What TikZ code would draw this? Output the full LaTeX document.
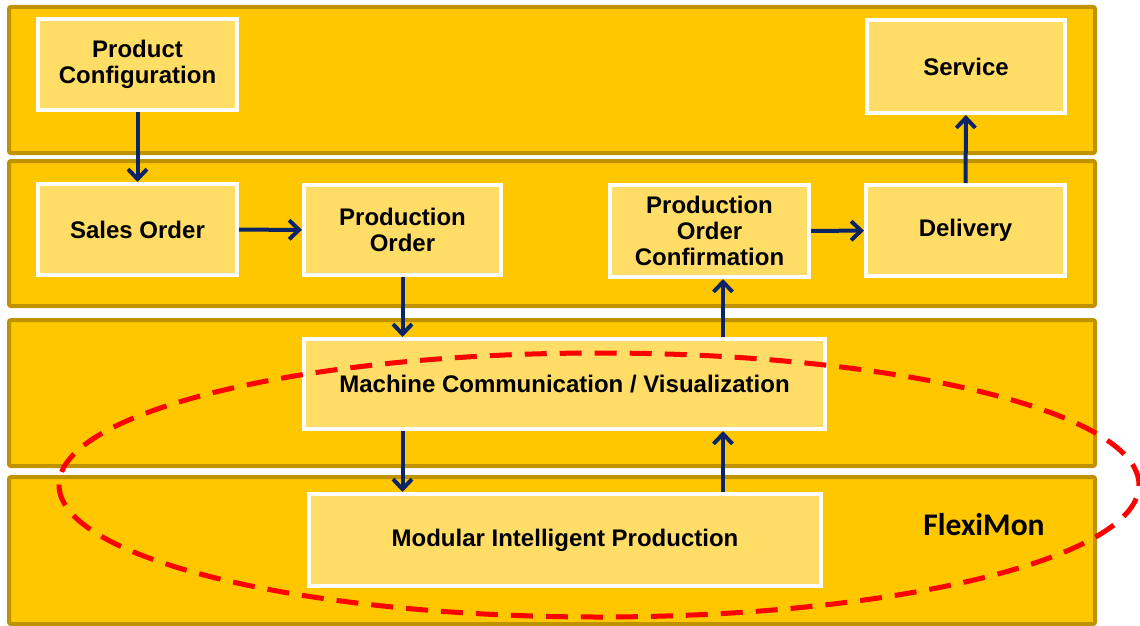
\documentclass[tikz,border=0pt]{standalone}
\usepackage{fontspec}
\setmainfont{Liberation Sans}
\newfontfamily\flexifamily{Carlito}
\usepackage{xcolor}
\usepackage{tikz}
\usetikzlibrary{arrows.meta,positioning,calc}
\definecolor{bandfill}{HTML}{FFC700}
\definecolor{bandline}{HTML}{BF9300}
\definecolor{boxfill}{HTML}{FFDD66}
\definecolor{navy}{HTML}{0A2466}
\tikzset{
  band/.style={draw=bandline, line width=4pt, fill=bandfill, rounded corners=2pt},
  box/.style={draw=white, line width=4pt, fill=boxfill, align=center, inner sep=2pt,
    font=\fontsize{24}{26}\selectfont\bfseries},
  arrow/.style={-{Straight Barb[length=10pt,width=19pt]}, line width=4pt, draw=navy},
  lens/.style={draw=red, line width=5pt, dash pattern=on 22pt off 13pt}
}
\begin{document}
\begin{tikzpicture}[x=1pt, y=-1pt]
    \useasboundingbox (0,0) rectangle (1140,626);
    % Layers
    \path[band] (9,7) rectangle (1095,153);
    \path[band] (9,161) rectangle (1095,306);
    \path[band] (9,320) rectangle (1095,466);
    \path[band] (9,477) rectangle (1095,624);

    % Nodes
    \node[box, minimum width=199pt, minimum height=91pt] (pconf) at (137.5,64.5) {Product\\ Configuration};
    \node[box, minimum width=199pt, minimum height=91pt] (sorder) at (137.5,229.5) {Sales Order};
    \node[box, minimum width=197pt, minimum height=90pt] (porder) at (402.5,230) {Production\\ Order};
    \node[box, minimum width=199pt, minimum height=92pt] (pconfirm) at (709.5,231) {Production\\ Order\\ Confirmation};
    \node[box, minimum width=199pt, minimum height=91pt] (delivery) at (965.5,230.5) {Delivery};
    \node[box, minimum width=198pt, minimum height=93pt] (service) at (966,66.5) {Service};
    \node[box, minimum width=521pt, minimum height=90pt] (machine) at (564.5,384) {Machine Communication / Visualization};
    \node[box, minimum width=512pt, minimum height=92pt] (modular) at (565,540) {Modular Intelligent Production};
    \node[font=\flexifamily\fontsize{31.5}{34}\selectfont\bfseries] (flexi) at (984,525) {FlexiMon};

    % Arrows
    \draw[arrow] (pconf) -- (sorder);
    \draw[arrow] (sorder) -- (porder);
    \draw[arrow] (porder.south) -- (porder.south |- machine.north);
    \draw[arrow] (machine.south -| porder.south) -- (porder.south |- modular.north);
    \draw[arrow] ($(modular.north)+(158,0)$) -- ($(modular.north |- machine.south)+(158,0)$);
    \draw[arrow] ($(machine.north)+(158.5,0)$) -- ($(machine.north |- pconfirm.south)+(158.5,0)$);
    \draw[arrow] (pconfirm) -- (delivery);
    \draw[arrow] (delivery) -- (service);

    % FlexiMon scope
    \draw[lens] (599,485) ellipse [x radius=540pt, y radius=132pt];
\end{tikzpicture}
\end{document}
